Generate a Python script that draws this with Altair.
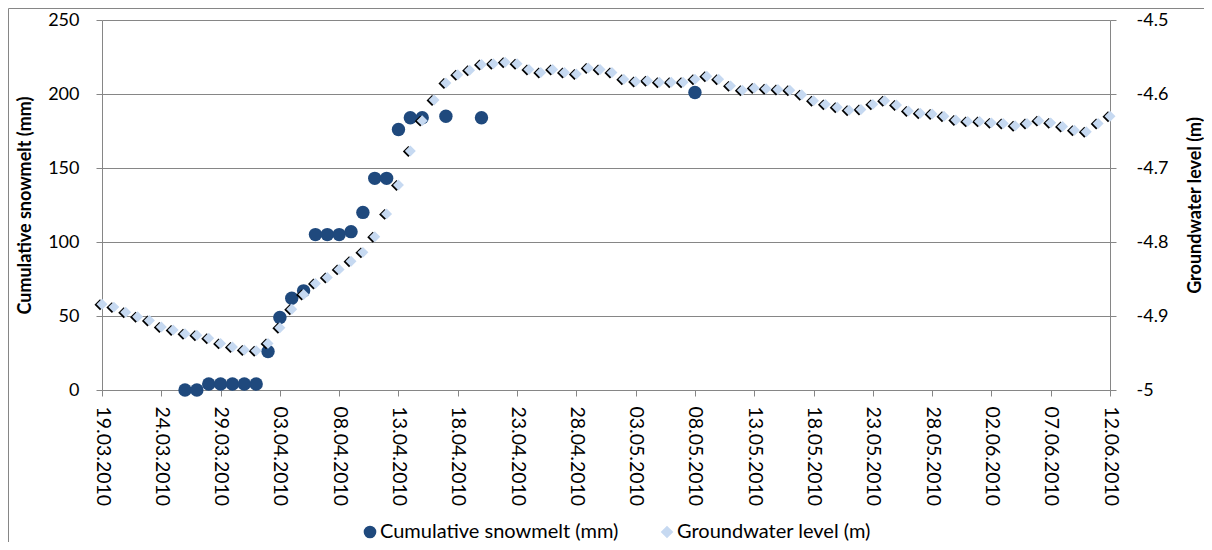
import altair as alt
import pandas as pd

# ---------------- data ----------------
series_names = ["Cumulative snowmelt (mm)", "Groundwater level (m)"]

snow_dates = [
    "2010-03-26", "2010-03-27", "2010-03-28", "2010-03-29", "2010-03-30",
    "2010-03-31", "2010-04-01", "2010-04-02", "2010-04-03", "2010-04-04",
    "2010-04-05", "2010-04-06", "2010-04-07", "2010-04-08", "2010-04-09",
    "2010-04-10", "2010-04-11", "2010-04-12", "2010-04-13", "2010-04-14",
    "2010-04-15", "2010-04-17", "2010-04-20", "2010-05-08",
]
snow_mm = [
    0, 0, 4, 4, 4,
    4, 4, 26, 49, 62,
    67, 105, 105, 105, 107,
    120, 143, 143, 176, 184,
    184, 185, 184, 201,
]

gw_start = "2010-03-19"
gw_level = [
    -4.884, -4.888, -4.895, -4.901, -4.906, -4.915, -4.919, -4.924, -4.926, -4.930,
    -4.937, -4.942, -4.946, -4.947, -4.937, -4.916, -4.891, -4.871, -4.856, -4.848,
    -4.837, -4.826, -4.814, -4.793, -4.762, -4.723, -4.677, -4.636, -4.608, -4.585,
    -4.574, -4.568, -4.560, -4.559, -4.557, -4.559, -4.567, -4.571, -4.567, -4.571,
    -4.573, -4.565, -4.567, -4.571, -4.580, -4.583, -4.582, -4.584, -4.584, -4.584,
    -4.580, -4.576, -4.580, -4.589, -4.595, -4.592, -4.593, -4.594, -4.595, -4.601,
    -4.609, -4.614, -4.618, -4.622, -4.621, -4.614, -4.609, -4.615, -4.623, -4.626,
    -4.627, -4.630, -4.635, -4.637, -4.637, -4.639, -4.640, -4.643, -4.640, -4.636,
    -4.639, -4.644, -4.649, -4.651, -4.640, -4.630,
]

tick_labels = [
    "19.03.2010", "24.03.2010", "29.03.2010", "03.04.2010", "08.04.2010",
    "13.04.2010", "18.04.2010", "23.04.2010", "28.04.2010", "03.05.2010",
    "08.05.2010", "13.05.2010", "18.05.2010", "23.05.2010", "28.05.2010",
    "02.06.2010", "07.06.2010", "12.06.2010",
]
left_ticks = [0, 50, 100, 150, 200, 250]
right_ticks = [-5.0, -4.9, -4.8, -4.7, -4.6, -4.5]

# ---------------- tables ----------------
gw_dates = pd.date_range(gw_start, periods=len(gw_level), freq="D").strftime("%Y-%m-%d")
snow_df = pd.DataFrame({"date": snow_dates, "value": snow_mm, "series": series_names[0]})
gw_df = pd.DataFrame({"date": list(gw_dates), "value": gw_level, "series": series_names[1]})
tick_ms = [int(pd.to_datetime(t, format="%d.%m.%Y").value // 10**6) for t in tick_labels]

FONT = "Lato"
GREY = "#868686"

x_enc = alt.X(
    "date:T",
    title=None,
    scale=alt.Scale(type="utc", domain=[tick_ms[0], tick_ms[-1]]),
    axis=alt.Axis(
        values=tick_ms, labelExpr="utcFormat(datum.value, '%d.%m.%Y')", labelAngle=90,
        labelAlign="left", labelBaseline="middle", labelPadding=10,
        labelFontSize=19.5, tickSize=6, grid=False, labelOverlap=False,
    ),
)

legend_def = alt.Legend(
    title=None, orient="none", direction="horizontal", legendX=258, legendY=502,
    labelFontSize=20, labelFont=FONT, columnPadding=38, symbolSize=160,
    symbolOpacity=1, symbolStrokeWidth=0, labelOffset=0, labelLimit=0,
)

color_enc = alt.Color(
    "series:N",
    scale=alt.Scale(domain=series_names, range=["#1F497D", "#C6D9F1"]),
    legend=legend_def,
)
shape_enc = alt.Shape(
    "series:N",
    scale=alt.Scale(domain=series_names, range=["circle", "diamond"]),
    legend=legend_def,
)

snow = alt.Chart(snow_df).mark_point(filled=True, size=180, opacity=1).encode(
    x=x_enc,
    y=alt.Y(
        "value:Q",
        scale=alt.Scale(domain=[0, 250], nice=False, zero=False),
        axis=alt.Axis(
            orient="left", values=left_ticks, grid=True, title=series_names[0],
            titleFontWeight="bold", titleFontSize=18, titleX=-68, labelPadding=17,
            tickSize=6, labelFontSize=18,
        ),
    ),
    color=color_enc,
    shape=shape_enc,
)

gw_y = alt.Y(
    "value:Q",
    scale=alt.Scale(domain=[-5.0, -4.5], nice=False, zero=False),
    axis=alt.Axis(
        orient="right", values=right_ticks, format=".1~f", grid=False,
        labelExpr="replace(datum.label, '\u2212', '-')",
        title=series_names[1], titleFontWeight="bold", titleFontSize=18,
        titleAngle=270, titleX=94, labelPadding=20, tickSize=6, labelFontSize=18,
    ),
)

gw_base = alt.Chart(gw_df).encode(x=x_enc, y=gw_y)
gw_shadow = gw_base.mark_point(
    filled=True, shape="diamond", size=120, color="black", opacity=1, xOffset=-2, yOffset=0.5
)
gw_fill = gw_base.mark_point(filled=True, size=120, opacity=1).encode(color=color_enc, shape=shape_enc)
gw = alt.layer(gw_shadow, gw_fill)

frame_df = pd.DataFrame({"k": [0]})
frame_left = alt.Chart(frame_df).mark_rule(color=GREY, strokeWidth=1).encode(
    x=alt.value(-93.5), y=alt.value(-11.5), y2=alt.value(530)
)
frame_top = alt.Chart(frame_df).mark_rule(color=GREY, strokeWidth=1).encode(
    x=alt.value(-93.5), x2=alt.value(1110), y=alt.value(-11.5)
)

chart = (
    alt.layer(frame_left, frame_top, snow, gw)
    .resolve_scale(y="independent")
    .properties(
        width=1008, height=370,
        autosize=alt.AutoSizeParams(type="none"),
        padding={"left": 94, "top": 12, "right": 94, "bottom": 152},
        background="white",
    )
    .configure_view(strokeWidth=0)
    .configure_axis(
        domainColor=GREY, tickColor=GREY, gridColor=GREY, gridWidth=1,
        labelFont=FONT, titleFont=FONT, labelColor="black", titleColor="black",
    )
    .configure_legend(labelColor="black")
)

chart.save("out.html", embed_options={"renderer": "svg", "actions": False})
